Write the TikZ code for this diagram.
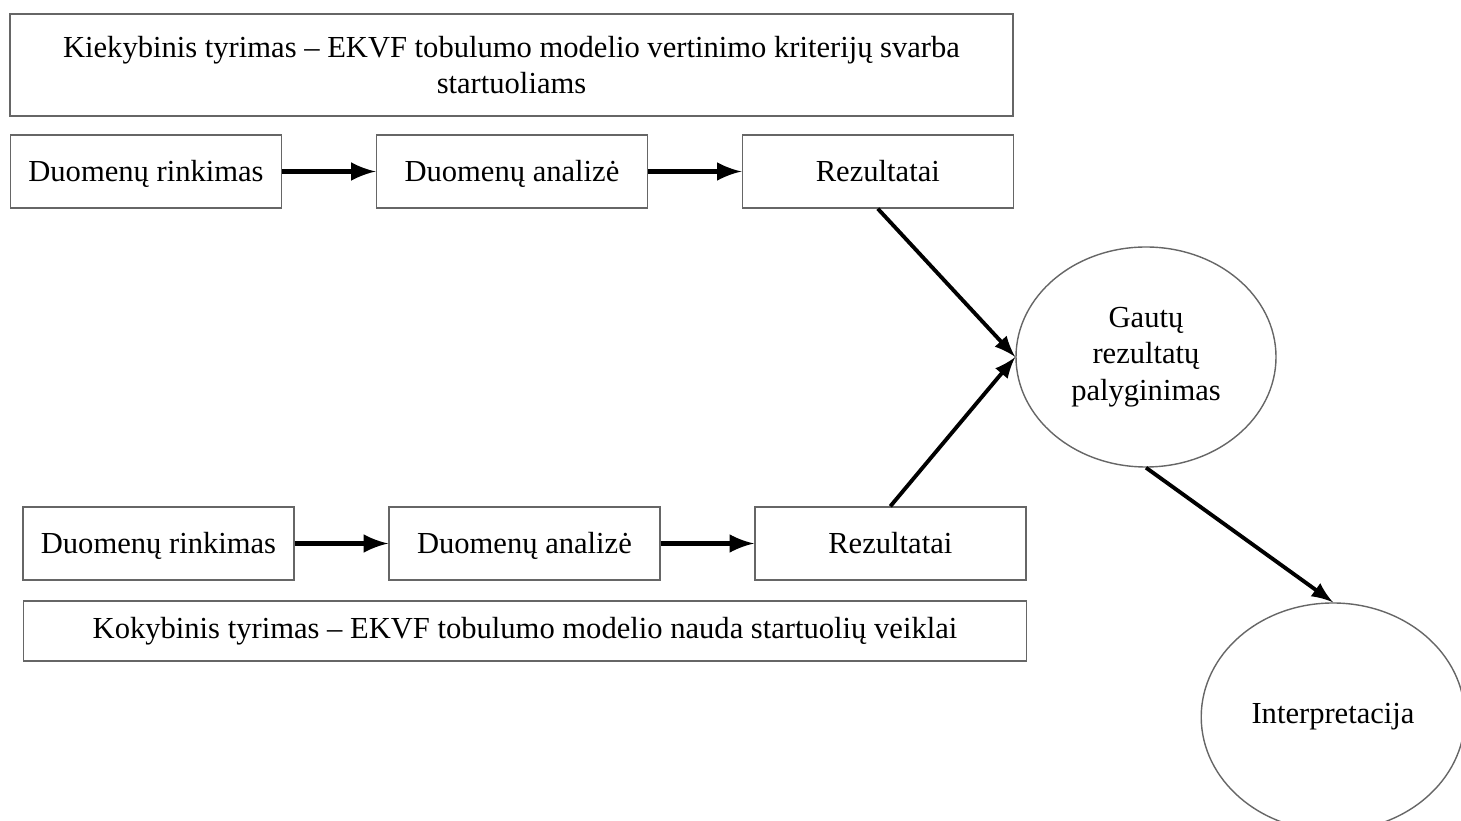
\documentclass[tikz,border=0pt]{standalone}
\usepackage{fontspec}
\setmainfont{Liberation Serif}
\usetikzlibrary{shapes.geometric,arrows,positioning}
\tikzset
{
    stepbox/.style  = {rectangle, draw=black!60, align=center, minimum width=2.71cm, minimum height=0.73cm, text height=1.5ex, text depth=0.25ex},
    studybox/.style = {rectangle, draw=black!60, align=center, minimum width=10.03cm},
    roundnode/.style = {ellipse, draw=black!60, align=center, minimum width=2.6cm, minimum height=2.2cm},
    flow/.style = {-latex, line width=1.1pt}
}

\begin{document}
\begin{tikzpicture}[font=\fontsize{8.7}{10.3}\selectfont, node distance=0.935cm]
		\useasboundingbox (0,0) rectangle (14.61,-8.21);
		% kiekybinis tyrimas
		\node[studybox, minimum height=1.02cm] (kiek) at (5.115,-0.65) {Kiekybinis tyrimas -- EKVF tobulumo modelio vertinimo kriterijų svarba\\startuoliams};
		\node[stepbox] (rink1) at (1.46,-1.715) {Duomenų rinkimas};
		\node[stepbox, right=of rink1] (anal1) {Duomenų analizė};
		\node[stepbox, right=of anal1] (rez1) {Rezultatai};
		% kokybinis tyrimas
		\node[stepbox] (rink2) at (1.585,-5.435) {Duomenų rinkimas};
		\node[stepbox, right=of rink2] (anal2) {Duomenų analizė};
		\node[stepbox, right=of anal2] (rez2) {Rezultatai};
		\node[studybox, minimum height=0.6cm] (koky) at (5.25,-6.31) {Kokybinis tyrimas -- EKVF tobulumo modelio nauda startuolių veiklai};
		% palyginimas
		\node[roundnode] (palyg) at (11.46,-3.57) {Gautų\\rezultatų\\palyginimas};
		\node[roundnode, minimum width=2.5cm, minimum height=2.28cm] (interp) at (13.33,-7.17) {Interpretacija};
		\draw[flow, line width=1.4pt] (rink1) -- (anal1);
		\draw[flow, line width=1.4pt] (anal1) -- (rez1);
		\draw[flow, line width=1.4pt] (rink2) -- (anal2);
		\draw[flow, line width=1.4pt] (anal2) -- (rez2);
		\draw[flow] (rez1.south) -- (palyg.west);
		\draw[flow] (rez2.north) -- (palyg.west);
		\draw[flow] (palyg.south) -- (interp.north);
\end{tikzpicture}
\end{document}
